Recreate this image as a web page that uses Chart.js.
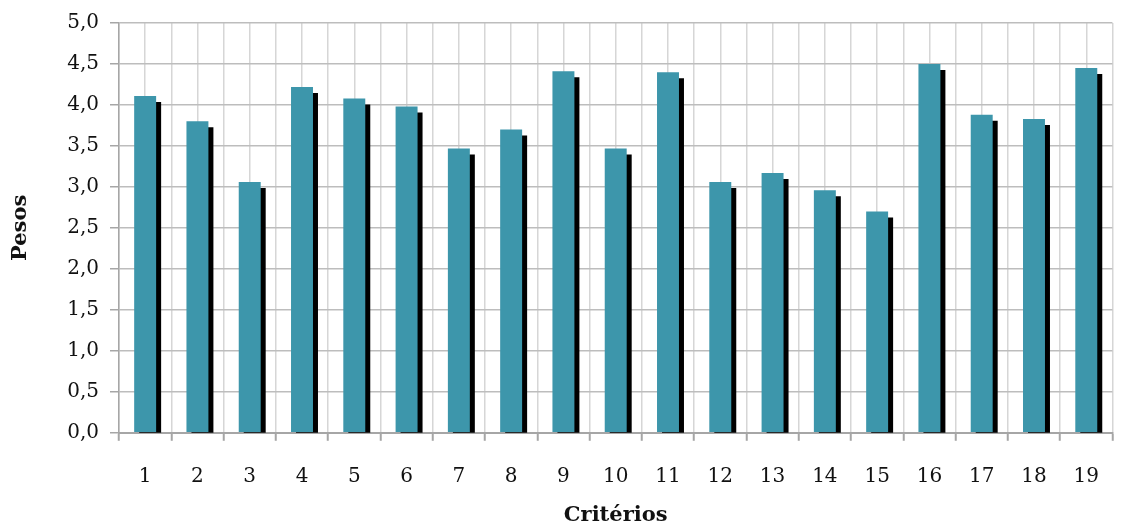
<!DOCTYPE html>
<html>
<head>
<meta charset="utf-8">
<script src="https://cdn.jsdelivr.net/npm/chart.js@4/dist/chart.umd.min.js"></script>
<style>
html,body{margin:0;padding:0;background:#fff;}
#wrap{width:1123px;height:525px;position:relative;}
</style>
</head>
<body>
<div id="wrap"><canvas id="c" width="1123" height="525"></canvas></div>
<script>
const categories = ["1","2","3","4","5","6","7","8","9","10","11","12","13","14","15","16","17","18","19"];
const pesos = [4.11, 3.80, 3.06, 4.22, 4.08, 3.98, 3.47, 3.70, 4.41, 3.47, 4.40, 3.06, 3.17, 2.96, 2.70, 4.50, 3.88, 3.83, 4.45];
const yTitle = "Pesos";
const xTitle = "Critérios";
const yMin = 0, yMax = 5, yStep = 0.5;

const shadowPlugin = {
  id: 'barShadow',
  beforeDatasetsDraw(chart) {
    const ctx = chart.ctx;
    ctx.save();
    ctx.shadowColor = '#000';
    ctx.shadowOffsetX = 5;
    ctx.shadowOffsetY = 6;
    ctx.shadowBlur = 0;
  },
  afterDatasetsDraw(chart) {
    chart.ctx.restore();
  }
};

const serif = "'DejaVu Serif', 'Liberation Serif', serif";

new Chart(document.getElementById('c'), {
  type: 'bar',
  data: {
    labels: categories,
    datasets: [{
      label: yTitle,
      data: pesos,
      backgroundColor: '#3d96ab',
      borderWidth: 0,
      categoryPercentage: 1,
      barPercentage: 0.42,
      xAxisID: 'x'
    }]
  },
  options: {
    responsive: false,
    animation: false,
    devicePixelRatio: 1,
    layout: { padding: { left: 4, right: -4, top: 4, bottom: 0 } },
    plugins: { legend: { display: false }, tooltip: { enabled: false } },
    scales: {
      x: {
        type: 'category',
        offset: true,
        grid: { offset: true, color: '#d6d6d6', lineWidth: 1.5, drawTicks: true, tickLength: 8, tickColor: '#a6a6a6', tickWidth: 2 },
        border: { color: '#a6a6a6', width: 2 },
        ticks: { color: '#111', font: { family: serif, size: 20 }, padding: 24 },
        title: { display: true, text: xTitle, color: '#111', font: { family: serif, size: 21, weight: 'bold' }, padding: { top: -10, bottom: -3 } }
      },
      x2: {
        type: 'category',
        labels: categories,
        offset: true,
        position: 'bottom',
        display: true,
        grid: { offset: false, color: '#d6d6d6', lineWidth: 1.5, drawTicks: false },
        border: { display: false },
        ticks: { display: false },
        afterFit: s => { s.height = 0; }
      },
      y: {
        min: yMin, max: yMax,
        grid: { color: '#bdbdbd', lineWidth: 1.5, tickLength: 9, tickColor: '#a6a6a6' },
        border: { color: '#a6a6a6', width: 1.5 },
        ticks: {
          stepSize: yStep,
          color: '#111',
          font: { family: serif, size: 20 },
          padding: 11,
          callback: v => v.toFixed(1).replace('.', ',')
        },
        title: { display: true, text: yTitle, color: '#111', font: { family: serif, size: 21, weight: 'bold' }, padding: { top: 4, bottom: 23 } }
      }
    }
  },
  plugins: [shadowPlugin]
});
</script>
</body>
</html>
